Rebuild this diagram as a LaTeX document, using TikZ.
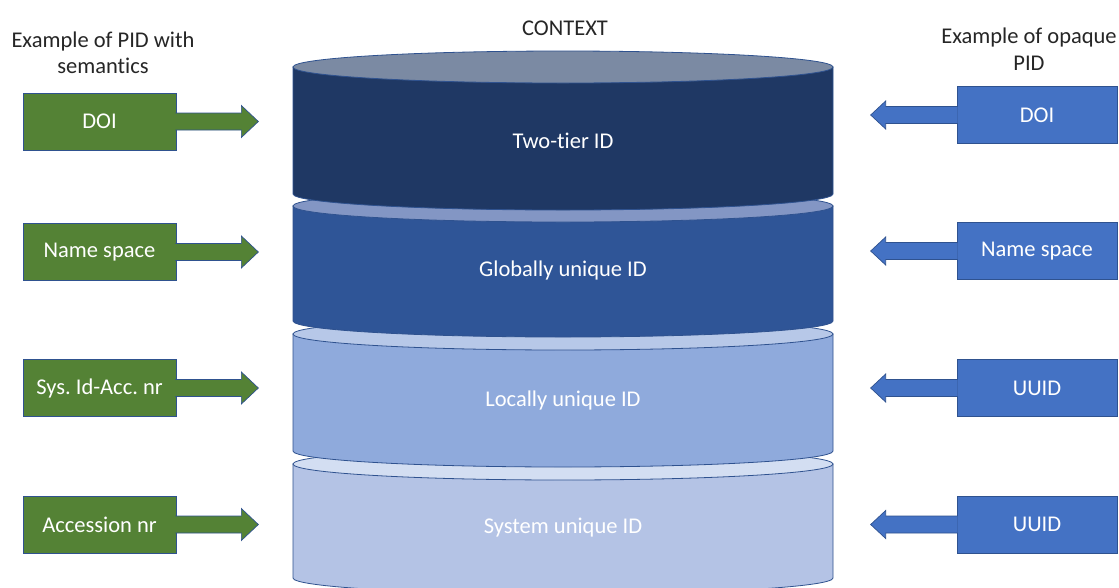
\documentclass[tikz,border=0pt]{standalone}
\usepackage{fontspec}
\setmainfont[Ligatures={NoCommon}]{Carlito}
\usetikzlibrary{calc}
\frenchspacing
\definecolor{gfill}{HTML}{548235}
\definecolor{bfill}{HTML}{4472C4}
\definecolor{edgeblue}{HTML}{2F528F}
\definecolor{cylline}{HTML}{2F528F}
\definecolor{cAbody}{HTML}{1F3864}
\definecolor{cAtop}{HTML}{7B8AA3}
\definecolor{cBbody}{HTML}{2F5597}
\definecolor{cBtop}{HTML}{8396C4}
\definecolor{cCbody}{HTML}{8FAADC}
\definecolor{cCtop}{HTML}{B7C8E8}
\definecolor{cDbody}{HTML}{B4C3E5}
\definecolor{cDtop}{HTML}{D3DEF2}
\definecolor{hdr}{HTML}{262626}
\tikzset{
  txt/.style={font=\fontsize{22.5}{26.5}\selectfont},
  gbox/.style={txt, draw=edgeblue, line width=0.7pt, fill=gfill, text=white, minimum width=153pt, minimum height=57pt, inner sep=0pt},
  bbox/.style={txt, draw=edgeblue, line width=0.7pt, fill=bfill, text=white, minimum width=160pt, minimum height=57pt, inner sep=0pt},
  garrow/.style={fill=gfill, draw=edgeblue, line width=0.7pt, line join=miter},
  barrow/.style={fill=bfill, draw=edgeblue, line width=0.7pt, line join=miter},
  cyltext/.style={txt, text=white, inner sep=0pt},
  hdrtext/.style={txt, text=hdr, align=center, inner sep=0pt},
}
\newcommand\cylpart[7]{%
  \filldraw[fill=#3, draw=cylline, line width=0.8pt] (293,#1) -- (293,#2)
    arc[start angle=180, end angle=360, x radius=270pt, y radius=16pt] -- (833,#1) -- cycle;
  \filldraw[fill=#4, draw=cylline, line width=0.8pt] (563,#1) ellipse[x radius=270pt, y radius=16pt];
  \node[cyltext] (#5) at (563,#6) {#7};
}
\newcommand\rightarrowblock[1]{%
  \draw[garrow] ($(#1.east)+(-1,-8.5)$) -- ($(#1.east)+(65,-8.5)$) -- ($(#1.east)+(65,-16)$)
    -- ($(#1.east)+(82,0)$) -- ($(#1.east)+(65,16)$) -- ($(#1.east)+(65,8.5)$) -- ($(#1.east)+(-1,8.5)$);
}
\newcommand\leftarrowblock[1]{%
  \draw[barrow] ($(#1.west)+(1,-8.5)$) -- ($(#1.west)+(-71,-8.5)$) -- ($(#1.west)+(-71,-14)$)
    -- ($(#1.west)+(-86,0)$) -- ($(#1.west)+(-71,14)$) -- ($(#1.west)+(-71,8.5)$) -- ($(#1.west)+(1,8.5)$);
}
\begin{document}
\begin{tikzpicture}[x=1pt, y=-1pt]
\useasboundingbox (0,0) rectangle (1119,587);
\fill[white] (0,0) rectangle (1119,587);

% cylinders, bottom first
\cylpart{464}{578}{cDbody}{cDtop}{c4}{528}{System unique ID}
\cylpart{334}{451}{cCbody}{cCtop}{c3}{400}{Locally unique ID}
\cylpart{206}{321}{cBbody}{cBtop}{c2}{270}{Globally unique ID}
\cylpart{67}{194}{cAbody}{cAtop}{c1}{141}{Two-tier ID}

% headers
\node[hdrtext] (ctx) at (565,28) {CONTEXT};
\node[hdrtext] (hl) at (103,53) {Example of PID with\\semantics};
\node[hdrtext] (hr) at (1029,49) {Example of opaque\\PID};

% left boxes
\node[gbox] (l1) at (99.5,121.5) {DOI};
\node[gbox] (l2) at (99.5,252) {Name space};
\node[gbox] (l3) at (99.5,388) {Sys. Id-Acc. nr};
\node[gbox] (l4) at (99.5,524.5) {Accession nr};
\rightarrowblock{l1}
\rightarrowblock{l2}
\rightarrowblock{l3}
\rightarrowblock{l4}

% right boxes
\node[bbox] (r1) at (1037,115) {DOI};
\node[bbox] (r2) at (1037,251) {Name space};
\node[bbox] (r3) at (1037,388) {UUID};
\node[bbox] (r4) at (1037,524.5) {UUID};
\leftarrowblock{r1}
\leftarrowblock{r2}
\leftarrowblock{r3}
\leftarrowblock{r4}
\end{tikzpicture}
\end{document}
